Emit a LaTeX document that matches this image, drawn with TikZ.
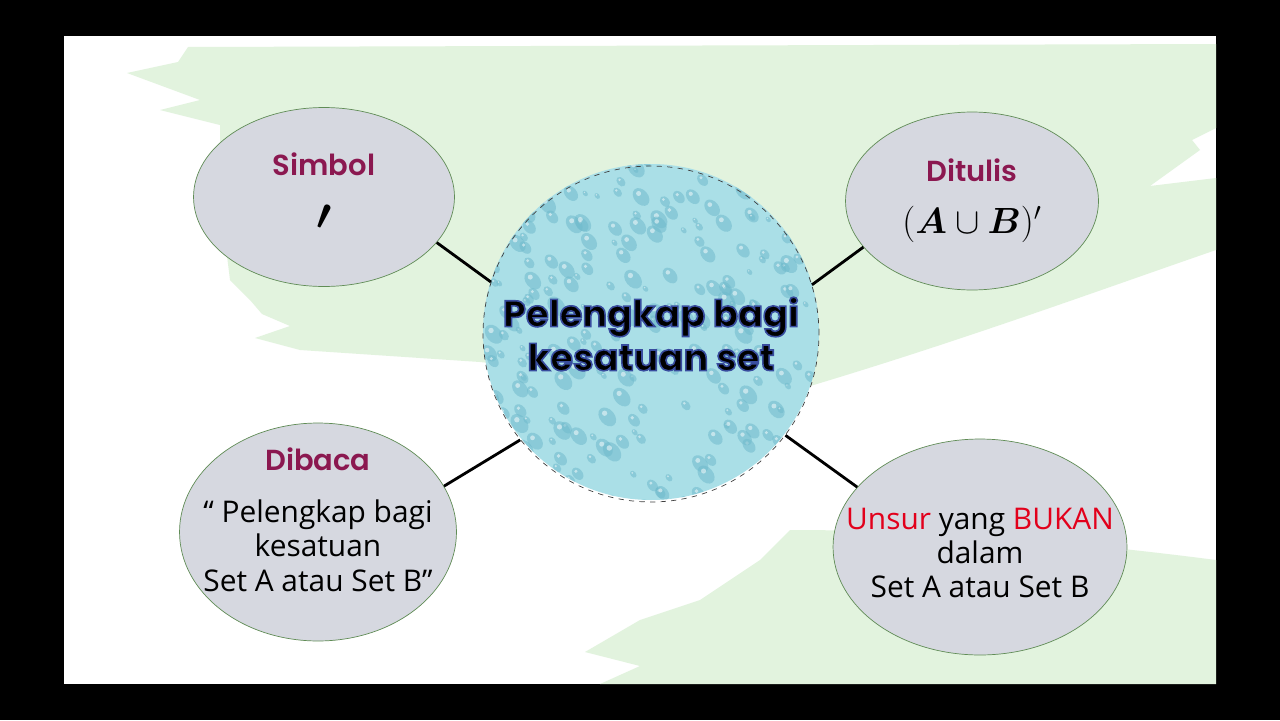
\documentclass[tikz,border=0pt]{standalone}
\usepackage{fontspec}
\usepackage{amsmath,bm}
\usetikzlibrary{shapes.geometric}
\newfontfamily\gothic{Poppins}[UprightFont=* SemiBold, BoldFont=* Bold]
\newfontfamily\comic{Open Sans}
\definecolor{slidegreen}{RGB}{226,243,222}
\definecolor{leafgray}{RGB}{214,216,224}
\definecolor{leafline}{RGB}{96,140,86}
\definecolor{plum}{RGB}{139,24,80}
\definecolor{hotred}{RGB}{226,0,27}
\definecolor{water}{RGB}{170,223,231}
\definecolor{drop}{RGB}{112,186,204}
% bluish outline round the title letters
\newcommand{\glow}[1]{\special{pdf:literal direct 2 Tr 0.9 w 0.22 0.30 0.62 RG}#1\special{pdf:literal direct 0 Tr}}

\begin{document}
\begin{tikzpicture}[x=0.02cm, y=-0.02cm,
  hub/.style={circle, draw=black!75, dashed, minimum size=6.72cm,
              inner sep=0pt, align=center,
              font=\gothic\bfseries\fontsize{21}{25}\selectfont},
  leaf/.style={ellipse, draw=leafline, fill=leafgray, inner xsep=-2cm, inner ysep=-1.5cm,
               align=center},
  head/.style={font=\gothic\fontsize{16.5}{20}\selectfont, text=plum},
  body/.style={font=\comic\fontsize{17}{19.5}\selectfont},
  link/.style={line width=1.6pt}
]
  \useasboundingbox (0,0) rectangle (1280,720);
  \fill[black] (0,0) rectangle (1280,720);
  \fill[white] (64,36) rectangle (1216,684);

  % brush strokes
  \fill[slidegreen] (127,73) -- (178,62) -- (188,47) -- (1216,44) -- (1216,128) -- (1192,140)
    -- (1200,150) -- (1150,186) -- (1216,178) -- (1216,250)
    .. controls (1100,290) and (950,345) .. (790,392) -- (700,386) -- (480,362) -- (300,350)
    -- (255,338) -- (290,326) -- (262,314) -- (250,300) -- (230,280) -- (220,200) -- (220,125)
    -- (160,110) -- (200,100) -- cycle;
  \fill[slidegreen] (585,652) -- (640,620) -- (700,600) -- (760,560) -- (790,530)
    .. controls (950,530) and (1100,545) .. (1216,560) -- (1216,684) -- (600,684) -- (640,666) -- cycle;

  % water drops
  \fill[water] (651,332) circle [radius=168];
  \begin{scope}
    \clip (651,332) circle [radius=168];
    \pgfmathsetseed{7}
    \foreach \k in {1,...,260}{
      \pgfmathsetmacro\dropx{651+rnd*350-175}
      \pgfmathsetmacro\dropy{332+rnd*350-175}
      \pgfmathsetmacro\dropr{3+rnd*8}
      \fill[drop, opacity=.55, rotate around={40:(\dropx,\dropy)}]
        (\dropx,\dropy) ellipse [x radius=\dropr*0.7, y radius=\dropr];
      \fill[white, opacity=.5] (\dropx-\dropr*0.25,\dropy-\dropr*0.35) circle [radius=\dropr*0.25];
    }
  \end{scope}

  \node[hub] (hub) at (651,334) {\glow{Pelengkap bagi}\\\glow{kesatuan set}};

  \node[leaf, minimum width=5.22cm, minimum height=3.58cm] (simbol) at (324,197)
    {{\gothic\fontsize{16.5}{20}\selectfont\color{plum}Simbol}\\[16pt]
     {\fontsize{24}{24}\selectfont$\bm{\prime}$}\rule[-7pt]{0pt}{7pt}};
  \node[leaf, minimum width=5.06cm, minimum height=3.56cm] (ditulis) at (972,201)
    {{\gothic\fontsize{16.5}{20}\selectfont\color{plum}Ditulis}\\[13pt]
     {\fontsize{20}{24}\selectfont$(\bm{A}\cup\bm{B})'$}};
  \node[leaf, body, minimum width=5.54cm, minimum height=4.36cm] (dibaca) at (318,532)
    {{\gothic\fontsize{16.5}{20}\selectfont\color{plum}Dibaca}\\[10pt]
     “ Pelengkap bagi\\ kesatuan\\ Set A atau Set B”\rule[-14pt]{0pt}{14pt}};
  \node[leaf, body, minimum width=5.88cm, minimum height=4.32cm] (unsur) at (980,547)
    {\rule{0pt}{19pt}\textcolor{hotred}{Unsur} yang \textcolor{hotred}{BUKAN}\\ dalam\\ Set A atau Set B};

  \draw[link] (simbol.-22) -- (hub.162);
  \draw[link] (ditulis.-157) -- (hub.17);
  \draw[link] (dibaca.20) -- (hub.-141);
  \draw[link] (unsur.154) -- (hub.-37);
\end{tikzpicture}
\end{document}
